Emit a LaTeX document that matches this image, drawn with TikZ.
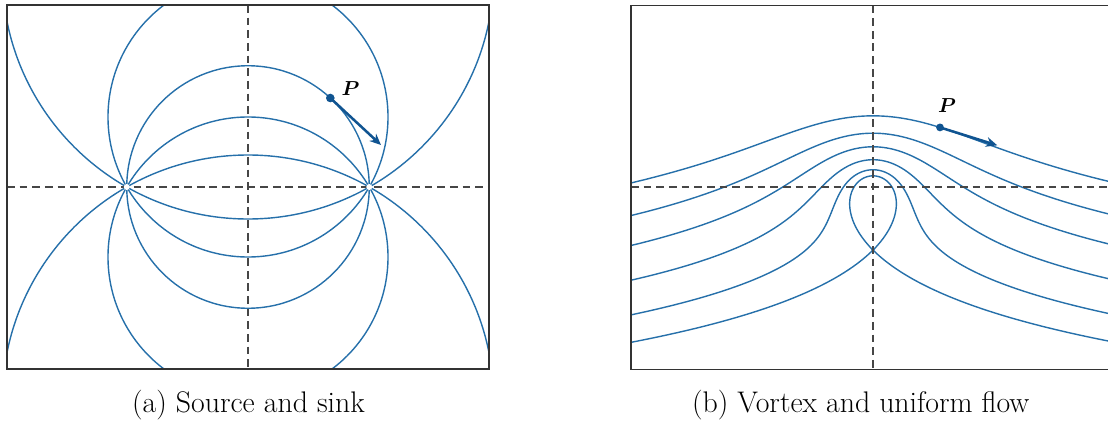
\documentclass[tikz,border=0pt]{standalone}
\usepackage{amsmath,bm}
\usetikzlibrary{arrows.meta}
\definecolor{flowblue}{RGB}{38,112,170}
\definecolor{probeblue}{RGB}{16,84,145}
\definecolor{axisgray}{RGB}{70,70,70}

\begin{document}
\begin{tikzpicture}[x=0.025cm, y=-0.025cm,
    streamline/.style={flowblue, line width=1pt},
    axisline/.style={axisgray, line width=0.8pt, dash pattern=on 5.5pt off 3.5pt},
    frameline/.style={black!80, line width=0.9pt},
    probe/.style={probeblue, line width=1.8pt, -{Stealth[length=8pt,width=7pt]}},
    probelabel/.style={font=\fontsize{14}{16}\selectfont},
    caption/.style={font=\fontsize{21.2}{25}\selectfont}
]
\useasboundingbox (0,0) rectangle (1108,433);

% (a) source and sink: circles through both points
\begin{scope}
\clip (7,5) rectangle (489,369);
\foreach \d/\R in {0/121.25, 70/140, -70/140, 213.7/245.7, -213.7/245.7}
  \draw[streamline] (248,{187+\d}) circle[radius=\R];
\end{scope}
\draw[axisline] (7,187) -- (489,187);
\draw[axisline] (248,5) -- (248,369);
\fill[white] (126.75,187) circle[radius=3];
\fill[white] (369.25,187) circle[radius=3];
\draw[frameline] (7,5) rectangle (489,369);

\coordinate (Pa) at (330.3,98);
\coordinate (Pa-tip) at (381,145);
\draw[probe] (Pa) -- (Pa-tip);
\fill[probeblue] (Pa) circle[radius=4.3];
\node[probelabel] (Pa-label) at (350.5,89) {$\bm{P}$};

% (b) vortex and uniform flow: psi = y + ln r
\begin{scope}
\clip (631,5.5) rectangle (1112,369.5);
\begin{scope}[shift={(873,192)}, x=1.45cm, y=1.45cm]
\foreach \c/\yend in {1.585/0, 1.027/-0.6, 0.53/-1.1, -0.03/-1.7, -0.575/-2.2, -1/-2.7}{
  \xdef\ytop{0.5}
  \foreach \i in {1,...,8}{
    \pgfmathparse{\ytop*(1-ln(\ytop)+\c)/(\ytop+1)}
    \xdef\ytop{\pgfmathresult}
  }
  \pgfmathsetmacro{\tmax}{sqrt(\ytop-\yend)}
  \draw[streamline] plot[domain=-\tmax:\tmax, samples=400, variable=\t]
    ({sign(\t)*sqrt(max(0, exp(2*(\c-\ytop+(\t)*(\t))) - (\ytop-(\t)*(\t))*(\ytop-(\t)*(\t))))}, {\ytop-(\t)*(\t)});
}
\coordinate (Pb) at (1.155,1.113);
\coordinate (Pb-tip) at (2.142,0.804);
\end{scope}
\end{scope}
\draw[axisline] (631,187) -- (1108,187);
\draw[axisline] (873,5.5) -- (873,369.5);
\draw[frameline] (631,5.5) rectangle (1112,369.5);

\draw[probe] (Pb) -- (Pb-tip);
\fill[probeblue] (Pb) circle[radius=3.9];
\node[probelabel] (Pb-label) at (947,106) {$\bm{P}$};

\node[caption] (cap-a) at (248.5,405) {(a) Source and sink};
\node[caption] (cap-b) at (860.7,405) {(b) Vortex and uniform flow};
\end{tikzpicture}
\end{document}
